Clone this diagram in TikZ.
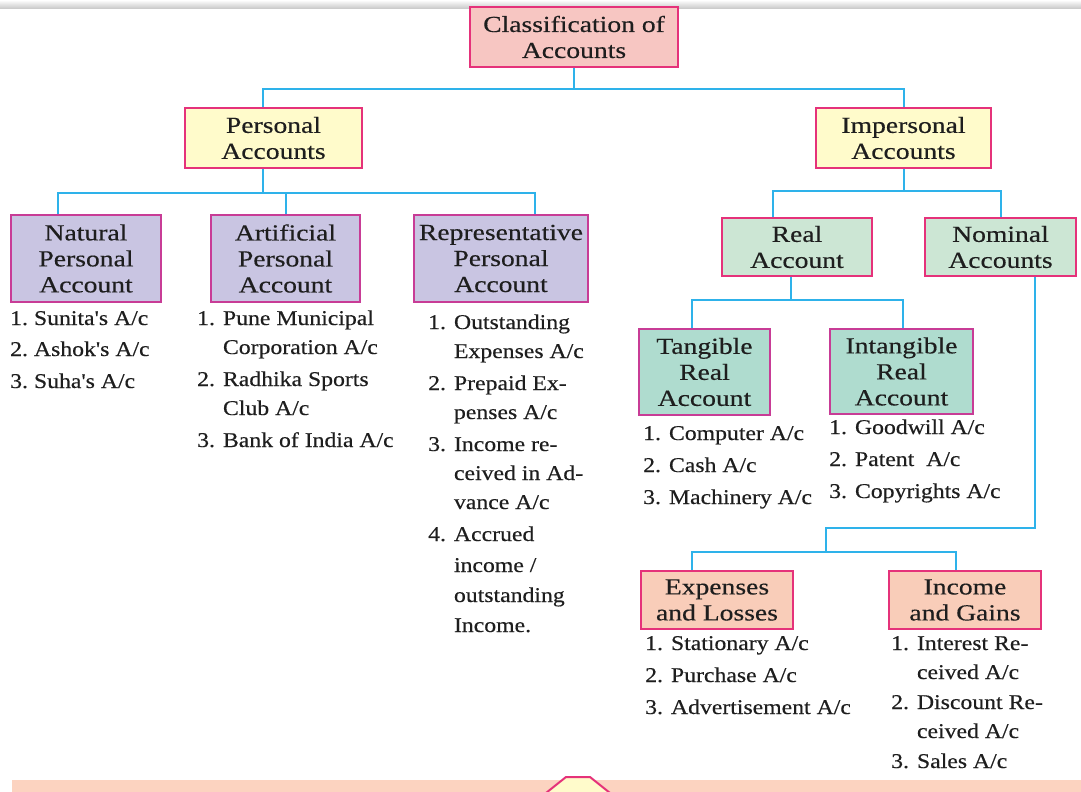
\documentclass[tikz,border=0pt]{standalone}
\usepackage{fontspec}
\setmainfont{Liberation Serif}
\newfontfamily\boxfont[FakeStretch=1.2,FakeBold=0.4]{Liberation Serif}
\newfontfamily\listfont[FakeStretch=1.13,FakeBold=0.4]{Liberation Serif}
\usetikzlibrary{calc}
\definecolor{connc}{HTML}{2EB2EA}
\definecolor{pinkb}{HTML}{E5327A}
\definecolor{purb}{HTML}{C83C96}
\definecolor{txt}{HTML}{1E1E1E}
\definecolor{topfill}{HTML}{F7C6C2}
\definecolor{yelfill}{HTML}{FFFBCB}
\definecolor{lavfill}{HTML}{C9C5E2}
\definecolor{grnfill}{HTML}{CCE6D4}
\definecolor{tealfill}{HTML}{AFDCCF}
\definecolor{peachfill}{HTML}{F9CDB9}
\definecolor{bandc}{HTML}{FCD3C0}
\tikzset{
  box/.style={draw=pinkb, line width=2pt, align=center, inner sep=0pt, text=txt,
    font=\boxfont\fontsize{23}{26}\selectfont},
  conn/.style={draw=connc, line width=2pt},
  lst/.style={anchor=base west, inner sep=0pt, text=txt,
    font=\listfont\fontsize{21}{29}\selectfont},
}
\begin{document}
\begin{tikzpicture}[x=1pt,y=-1pt]
\useasboundingbox (0,0) rectangle (1081,792);
\shade[top color=white, bottom color=gray!45] (0,0) rectangle (1081,9);
% boxes
\node[box, fill=topfill, minimum width=208pt, minimum height=60pt] (cls) at (574,37) {Classification of\\Accounts};
\node[box, fill=yelfill, minimum width=177pt, minimum height=60pt] (pers) at (273.5,138) {Personal\\Accounts};
\node[box, fill=yelfill, minimum width=175pt, minimum height=60pt] (imp) at (903.5,138) {Impersonal\\Accounts};
\node[box, draw=purb, fill=lavfill, minimum width=150pt, minimum height=87pt] (nat) at (86,258.5) {Natural\\Personal\\Account};
\node[box, draw=purb, fill=lavfill, minimum width=149pt, minimum height=87pt] (art) at (285.5,258.5) {Artificial\\Personal\\Account};
\node[box, draw=purb, fill=lavfill, minimum width=174pt, minimum height=87pt] (rep) at (501,258.5) {Representative\\Personal\\Account};
\node[box, fill=grnfill, minimum width=150pt, minimum height=58pt] (real) at (797,247) {Real\\Account};
\node[box, fill=grnfill, minimum width=151pt, minimum height=58pt] (nom) at (1000.5,247) {Nominal\\Accounts};
\node[box, draw=purb, fill=tealfill, minimum width=131pt, minimum height=86pt] (tan) at (704.5,372) {Tangible\\Real\\Account};
\node[box, draw=purb, fill=tealfill, minimum width=143pt, minimum height=85pt] (intan) at (901.5,371.5) {Intangible\\Real\\Account};
\node[box, fill=peachfill, minimum width=152pt, minimum height=58pt] (exp) at (717,600) {Expenses\\and Losses};
\node[box, fill=peachfill, minimum width=152pt, minimum height=58pt] (inc) at (965,600) {Income\\and Gains};
% connectors
\draw[conn] (cls.south) -- ++(0,21) coordinate (j0);
\draw[conn] ($(pers.north)+(-10.5,0)$) |- (j0) -| (imp.north);
\draw[conn] ($(pers.south)+(-10.5,0)$) -- ++(0,24) coordinate (j1);
\draw[conn] ($(nat.north)+(-28,0)$) |- (j1) -| ($(rep.north)+(34,0)$);
\draw[conn] (art.north) -- (art.north |- j1);
\draw[conn] (imp.south) -- ++(0,22) coordinate (j2);
\draw[conn] ($(real.north)+(-24,0)$) |- (j2) -| (nom.north);
\draw[conn] ($(real.south)+(-6,0)$) -- ++(0,23) coordinate (j3);
\draw[conn] ($(tan.north)+(-12.5,0)$) |- (j3) -| ($(intan.north)+(1.5,0)$);
\coordinate (j4) at (826,528);
\draw[conn] ($(nom.south)+(34.5,0)$) |- (j4) -- ++(0,24) coordinate (j5);
\draw[conn] ($(exp.north)+(-25,0)$) |- (j5) -| ($(inc.north)+(-9,0)$);
% lists
\node[lst] (lnat) at (10,325) {\begin{tabular}[t]{@{}l@{\hspace{6pt}}l@{}}
1.&Sunita's A/c\\[2pt] 2.&Ashok's A/c\\[3pt] 3.&Suha's A/c\end{tabular}};
\node[lst] (lart) at (197,325) {\begin{tabular}[t]{@{}l@{\hspace{8pt}}l@{}}
1.&Pune Municipal\\ &Corporation A/c\\[3pt] 2.&Radhika Sports\\ &Club A/c\\[3pt] 3.&Bank of India A/c\end{tabular}};
\node[lst] (lrep) at (428,329) {\begin{tabular}[t]{@{}l@{\hspace{8pt}}l@{}}
1.&Outstanding\\ &Expenses A/c\\[3pt] 2.&Prepaid Ex-\\ &penses A/c\\[3pt] 3.&Income re-\\ &ceived in Ad-\\ &vance A/c\\[3pt] 4.&Accrued\\[2pt] &income /\\[1pt] &outstanding\\[1pt] &Income.\end{tabular}};
\node[lst] (ltan) at (643,440) {\begin{tabular}[t]{@{}l@{\hspace{8pt}}l@{}}
1.&Computer A/c\\[3pt] 2.&Cash A/c\\[3pt] 3.&Machinery A/c\end{tabular}};
\node[lst] (lint) at (829,434) {\begin{tabular}[t]{@{}l@{\hspace{8pt}}l@{}}
1.&Goodwill A/c\\[3pt] 2.&Patent\ \ A/c\\[3pt] 3.&Copyrights A/c\end{tabular}};
\node[lst] (lexp) at (645,650) {\begin{tabular}[t]{@{}l@{\hspace{8pt}}l@{}}
1.&Stationary A/c\\[3pt] 2.&Purchase A/c\\[3pt] 3.&Advertisement A/c\end{tabular}};
\node[lst] (linc) at (891,650) {\begin{tabular}[t]{@{}l@{\hspace{8pt}}l@{}}
1.&Interest Re-\\ &ceived A/c\\[1pt] 2.&Discount Re-\\ &ceived A/c\\[1pt] 3.&Sales A/c\end{tabular}};
% bottom band
\fill[bandc] (12,780) rectangle (1081,792);
\draw[pinkb, line width=2pt, fill=yelfill] (546,793) -- (566,777) -- (590,777) -- (610,793);
\end{tikzpicture}
\end{document}
